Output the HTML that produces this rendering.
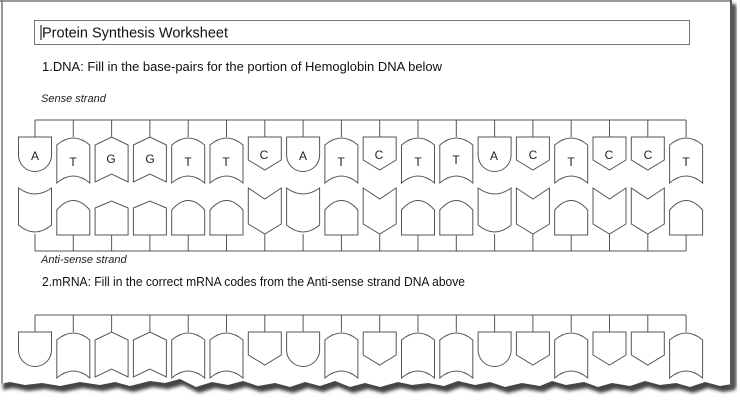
<!DOCTYPE html>
<html><head><meta charset="utf-8"><style>
html,body{margin:0;padding:0;background:#fff;}
svg{display:block;font-family:"Liberation Sans",sans-serif;}
</style></head><body>
<svg width="740" height="404" viewBox="0 0 740 404" xmlns="http://www.w3.org/2000/svg">
<defs>
<clipPath id="pg"><path id="tearp" d="M0,0 L732,0 L732,384 L720,386 L705,382 L690,387 L676,383 L660,385 L645,381 L630,386 L612,383 L598,387 L584,382 L566,385 L552,381 L540,386 L522,383 L505,387 L490,382 L475,385 L458,381 L444,386 L428,383 L412,385 L398,382 L380,387 L365,383 L350,387 L335,381 L320,386 L305,382 L290,387 L275,383 L258,386 L243,381 L228,385 L212,382 L196,387 L180,379 L165,383 L150,381 L130,386 L115,382 L100,385 L80,382 L60,386 L42,383 L25,385 L10,382 L0,384 Z"/></clipPath>
<filter id="bl"><feGaussianBlur stdDeviation="1.6"/></filter>
</defs>
<use href="#tearp" transform="translate(3,6)" fill="#444" filter="url(#bl)"/>
<rect x="729" y="4" width="7" height="384" fill="#555" filter="url(#bl)"/>
<use href="#tearp" fill="#fff"/>
<g clip-path="url(#pg)">
<line x1="2" y1="0" x2="2" y2="404" stroke="#777" stroke-width="1.5"/>
<line x1="0" y1="1" x2="732" y2="1" stroke="#777" stroke-width="1.5"/>
<line x1="731" y1="0" x2="731" y2="404" stroke="#555" stroke-width="2"/>
<rect x="34.5" y="20.5" width="655" height="24" fill="none" stroke="#777"/>
<text x="42" y="37.5" font-size="14.5" fill="#111" textLength="186" lengthAdjust="spacingAndGlyphs">Protein Synthesis Worksheet</text>
<line x1="41" y1="25" x2="41" y2="40" stroke="#000"/>
<text x="42" y="71" font-size="12.5" fill="#111" textLength="400" lengthAdjust="spacingAndGlyphs">1.DNA:  Fill in the base-pairs for the portion of Hemoglobin DNA below</text>
<text x="41" y="102" font-size="11" font-style="italic" fill="#222">Sense strand</text>
<text x="41" y="263" font-size="11" font-style="italic" fill="#222">Anti-sense strand</text>
<text x="42" y="286" font-size="12.5" fill="#111" textLength="423" lengthAdjust="spacingAndGlyphs">2.mRNA:  Fill in the correct mRNA codes from the Anti-sense strand DNA above</text>
<g id="shapes" fill="none" stroke="#555" stroke-width="1"></g>
<g font-size="12" fill="#222" text-anchor="middle">
<text x="35" y="160">A</text><text x="73" y="166">T</text><text x="111" y="163">G</text><text x="150" y="163">G</text>
<text x="188" y="166">T</text><text x="226" y="166">T</text><text x="264" y="159">C</text><text x="303" y="160">A</text>
<text x="341" y="166">T</text><text x="379" y="159">C</text><text x="418" y="166">T</text><text x="456" y="164">T</text>
<text x="494" y="160">A</text><text x="533" y="159">C</text><text x="571" y="166">T</text><text x="609" y="159">C</text>
<text x="648" y="159">C</text><text x="686" y="166">T</text>
</g>
</g>
<script>
var seq="ATGGTTCATCTTACTCCT";
var g=document.getElementById('shapes');var d="";
function cx(i){return 35+38.3*i;}
var w=16.5;
function sense(x,t,o){
 var y=137+o,s="";
 if(t=='A') s=`M${x-w},${y} H${x+w} V${y+18} A${w},${w} 0 0 1 ${x-w},${y+18} Z`;
 if(t=='C') s=`M${x-w},${y} H${x+w} V${y+23} L${x},${y+33} L${x-w},${y+23} Z`;
 if(t=='T') s=`M${x-w},${y+8} Q${x},${y-6} ${x+w},${y+8} V${y+46} Q${x},${y+32} ${x-w},${y+46} Z`;
 if(t=='G') s=`M${x-w},${y+8} L${x},${y} L${x+w},${y+8} V${y+45} L${x},${y+37} L${x-w},${y+45} Z`;
 return s+` M${x},${y} V${120+o}`;
}
function anti(x,t){
 var b=235,s="";
 if(t=='T') s=`M${x-w},${b} H${x+w} V${b-25} Q${x},${b-44} ${x-w},${b-25} Z`;
 if(t=='G') s=`M${x-w},${b} H${x+w} V${b-27} L${x},${b-34} L${x-w},${b-27} Z`;
 if(t=='A') s=`M${x-w},188 Q${x},200 ${x+w},188 V${b-10} Q${x},${b+4} ${x-w},${b-10} Z`;
 if(t=='C') s=`M${x-w},188 L${x},199 L${x+w},188 V${b-11} L${x},${b-1} L${x-w},${b-11} Z`;
 var by=(t=='A'||t=='C')?b-1:b;
 return s+` M${x},${by} V251`;
}
for(var i=0;i<18;i++){var x=cx(i),t=seq[i];d+=sense(x,t,0)+anti(x,t)+sense(x,t,195);}
d+=`M${cx(0)},120 H${cx(17)} M${cx(0)},251 H${cx(17)} M${cx(0)},315 H${cx(17)}`;
var p=document.createElementNS("http://www.w3.org/2000/svg","path");p.setAttribute("d",d);g.appendChild(p);
</script>
</svg>
</body></html>
